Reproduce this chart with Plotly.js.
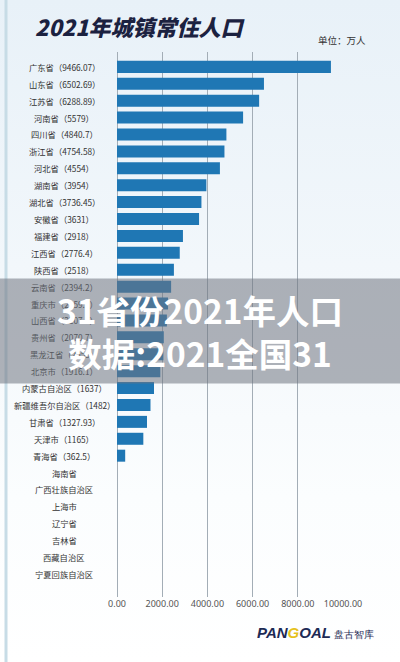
<!DOCTYPE html>
<html>
<head>
<meta charset="utf-8">
<script src="https://cdn.plot.ly/plotly-3.0.1.min.js"></script>
<style>
html,body{margin:0;padding:0;}
body{width:400px;height:662px;overflow:hidden;background:linear-gradient(180deg,#e8f1f8 0%,#f2f7fb 40%,#fbfdfe 75%,#ffffff 100%);}
#chart{width:400px;height:662px;}
</style>
</head>
<body>
<div id="chart"></div>
<script>
// ---- data ----
const provinces = ['广东省','山东省','江苏省','河南省','四川省','浙江省','河北省','湖南省','湖北省','安徽省',
  '福建省','江西省','陕西省','云南省','重庆市','山西省','贵州省','黑龙江省','北京市','内蒙古自治区',
  '新疆维吾尔自治区','甘肃省','天津市','青海省','海南省','广西壮族自治区','上海市','辽宁省','吉林省',
  '西藏自治区','宁夏回族自治区'];
const values = [9466.07,6502.69,6288.89,5579,4840.7,4754.58,4554,3954,3736.45,3631,
  2918,2776.4,2518,2394.2,2259.1,2207.7,2070.7,2053,1916.1,1637,
  1482,1327.93,1165,362.5,null,null,null,null,null,
  null,null];
const xTicks = [0,2000,4000,6000,8000,10000];
const titleText = '2021年城镇常住人口';
const unitText = '单位：万人';
const overlayLines = ['31省份2021年人口','数据:2021全国31'];

// ---- geometry helpers (pixel -> paper) ----
const W = 400, H = 662;
const mL = 117, mR = 57, mT = 52, mB = 65;
const pw = W - mL - mR, ph = H - mT - mB;
const px = p => (p - mL) / pw;
const py = p => (H - mB - p) / ph;

const labels = provinces.map((p,i) => values[i] == null ? p : p + '（' + String(values[i]) + '）');

const annotations = labels.map((t,i) => ({
  x: px(64), xref:'paper', y: provinces[i], yref:'y',
  text: t, showarrow:false, xanchor:'center', yanchor:'middle',
  font:{family:'Noto Sans CJK SC, sans-serif', size:8.3, color:'#333'}
}));

annotations.push({
  x: px(342), xref:'paper', y: py(40), yref:'paper', text: unitText, showarrow:false,
  xanchor:'center', yanchor:'middle',
  font:{family:'Noto Sans CJK SC, sans-serif', size:9.5, color:'#333'}
});
annotations.push({
  x: px(255), xref:'paper', y: py(632), yref:'paper', showarrow:false, xanchor:'left', yanchor:'middle',
  text: '<b><i>PAN<span style="color:#e6c21c">G</span>OAL</i></b><span style="font-size:10px"> 盘古智库</span>',
  font:{family:'Liberation Sans, Arial, sans-serif', size:15, color:'#1d2a55'}
});
// overlay band (watermark from source image)
annotations.push({
  x: px(200), xref:'paper', y: py(331), yref:'paper', showarrow:false, xanchor:'center', yanchor:'middle',
  width: 420, height: 104, bgcolor:'rgba(112,117,127,0.55)', borderpad:0,
  text: '<b>' + overlayLines.join('<br>') + '</b>',
  font:{family:'Noto Sans CJK SC, sans-serif', size:33.5, color:'#ffffff'}
});

const trace = {
  type:'bar', orientation:'h', x: values, y: provinces,
  marker:{color:'#1f77b4'}, hoverinfo:'none'
};

const layout = {
  width:W, height:H,
  margin:{l:mL, r:mR, t:mT, b:mB, pad:0},
  paper_bgcolor:'rgba(0,0,0,0)', plot_bgcolor:'rgba(0,0,0,0)',
  showlegend:false, bargap:0.29,
  title:{text: titleText, x:35/W, xanchor:'left', xref:'container', y:1-28/H, yanchor:'middle', yref:'container',
    font:{family:'Noto Sans CJK SC, sans-serif', size:22, color:'#1b2140', weight:900, style:'italic'}},
  xaxis:{range:[0,10000], tickvals:xTicks, tickformat:'.2f', showgrid:true, gridcolor:'#a3adb6', gridwidth:1,
    zeroline:true, zerolinecolor:'#a3adb6', showline:false, ticks:'',
    tickfont:{family:'Noto Sans, sans-serif', size:9, color:'#555'}, fixedrange:true},
  yaxis:{type:'category', categoryorder:'array', categoryarray:provinces,
    range:[30.5+0.86, -0.5-0.38], showticklabels:false, showgrid:false, zeroline:false,
    showline:false, ticks:'', fixedrange:true},
  shapes:[
    {type:'line', xref:'paper', yref:'paper', x0:px(6), x1:px(6), y0:py(0), y1:py(662),
     line:{color:'#c7dce6', width:3}, layer:'below'}
  ],
  annotations: annotations
};

Plotly.newPlot('chart',[trace],layout,{displayModeBar:false, staticPlot:true});
</script>
</body>
</html>
